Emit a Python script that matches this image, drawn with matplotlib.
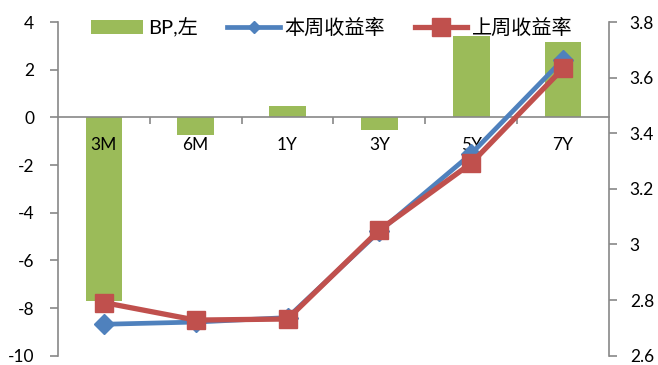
import matplotlib
matplotlib.use("Agg")
import matplotlib.pyplot as plt
from matplotlib.ticker import FixedLocator, FuncFormatter
from matplotlib.lines import Line2D
from matplotlib.patches import Patch

plt.rcParams['font.family'] = ['Lato', 'Noto Sans CJK SC', 'DejaVu Sans']
plt.rcParams['axes.unicode_minus'] = False

tenors = ["3M", "6M", "1Y", "3Y", "5Y", "7Y"]
bp_change = [-7.7, -0.74, 0.46, -0.52, 3.4, 3.17]
this_week = [2.713, 2.721, 2.737, 3.047, 3.326, 3.665]
last_week = [2.791, 2.728, 2.732, 3.052, 3.292, 3.633]

label_bp = "BP,左"
label_this = "本周收益率"
label_last = "上周收益率"

green = "#9BBB59"
blue = "#4F81BD"
red = "#C0504D"
grey = "#888888"
tick_fs = 12.5

fig = plt.figure(figsize=(6.58, 3.65), dpi=100)
ax = fig.add_axes([0.0881, 0.0255, 0.8374, 0.9142])
x = list(range(len(tenors)))

ax.bar(x, bp_change, width=0.4, color=green, zorder=1)
ax.set_xlim(-0.5, len(tenors) - 0.5)
ax.set_ylim(-10, 4)
ax.set_yticks(range(-10, 5, 2))
ax.yaxis.set_major_formatter(FuncFormatter(lambda v, p: f"{v:g}"))

for s in ["top", "right"]:
    ax.spines[s].set_visible(False)
ax.spines["left"].set_color(grey)
ax.spines["left"].set_linewidth(1.2)
ax.spines["bottom"].set_position(("data", 0))
ax.spines["bottom"].set_color(grey)
ax.spines["bottom"].set_linewidth(1.2)

ax.set_xticks(x)
ax.set_xticklabels(tenors)
ax.xaxis.set_minor_locator(FixedLocator([i + 0.5 for i in range(len(tenors) - 1)]))
ax.tick_params(axis="x", which="major", length=0, pad=14, labelsize=tick_fs)
ax.tick_params(axis="x", which="minor", length=5, color=grey, width=1.2, direction="out")
ax.tick_params(axis="y", length=6, color=grey, width=1.2, labelsize=tick_fs, pad=11)

ax2 = ax.twinx()
ax2.set_ylim(2.6, 3.8)
ax2.set_yticks([2.6, 2.8, 3.0, 3.2, 3.4, 3.6, 3.8])
ax2.yaxis.set_major_formatter(FuncFormatter(lambda v, p: f"{v:g}"))
for s in ["top", "left", "bottom"]:
    ax2.spines[s].set_visible(False)
ax2.spines["right"].set_color(grey)
ax2.spines["right"].set_linewidth(1.2)
ax2.tick_params(axis="y", length=6, color=grey, width=1.2, labelsize=tick_fs, pad=9)

ax2.plot(x, this_week, color=blue, lw=3.4, marker="D", markersize=10,
         markerfacecolor=blue, markeredgecolor=blue, zorder=3)
ax2.plot(x, last_week, color=red, lw=3.8, marker="s", markersize=13,
         markerfacecolor=red, markeredgecolor=red, zorder=4)

handles = [
    Patch(facecolor=green, edgecolor="none"),
    Line2D([], [], color=blue, lw=3.4, marker="D", markersize=6.5),
    Line2D([], [], color=red, lw=3.8, marker="s", markersize=13),
]
fig.legend(handles, [label_bp, label_this, label_last], ncol=3, frameon=False,
           loc="center left", bbox_to_anchor=(0.1383, 0.925), fontsize=14.5,
           borderpad=0, borderaxespad=0,
           handlelength=2.6, handleheight=0.65, columnspacing=1.45, handletextpad=0.25)

fig.savefig("out.png", dpi=100)
